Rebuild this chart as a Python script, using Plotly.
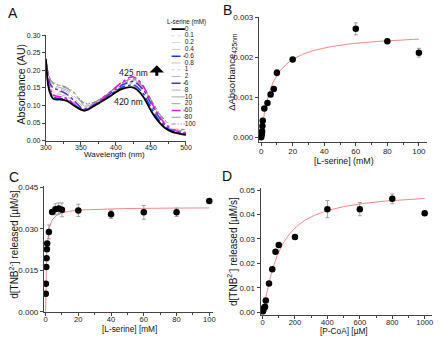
import numpy as np
import plotly.graph_objects as go

W, H = 442, 343


def fx(p):
    return p / W


def fy(p):
    return 1 - p / H


# ---------------- Panel A: absorbance spectra ----------------
wavelength = [300, 303, 306, 310, 315, 320, 330, 340, 350, 355, 360, 370, 380,
              390, 400, 410, 420, 425, 430, 440, 450, 460, 470, 480, 490, 500]

abs_0 = [0.232, 0.160, 0.135, 0.120, 0.117, 0.117, 0.113, 0.100, 0.088, 0.085, 0.088, 0.100, 0.112,
         0.124, 0.138, 0.148, 0.152, 0.151, 0.145, 0.122, 0.085, 0.056, 0.036, 0.025, 0.020, 0.016]
abs_0p1 = [0.230, 0.162, 0.137, 0.122, 0.118, 0.118, 0.114, 0.101, 0.089, 0.086, 0.089, 0.101, 0.113,
           0.125, 0.139, 0.149, 0.154, 0.153, 0.147, 0.124, 0.087, 0.058, 0.037, 0.026, 0.020, 0.017]
abs_0p2 = [0.228, 0.166, 0.141, 0.126, 0.122, 0.121, 0.117, 0.103, 0.090, 0.087, 0.090, 0.102, 0.114,
           0.127, 0.141, 0.151, 0.156, 0.156, 0.150, 0.127, 0.090, 0.060, 0.039, 0.027, 0.021, 0.018]
abs_0p4 = [0.226, 0.170, 0.146, 0.131, 0.127, 0.126, 0.121, 0.106, 0.092, 0.088, 0.091, 0.103, 0.116,
           0.129, 0.143, 0.154, 0.159, 0.159, 0.153, 0.130, 0.093, 0.062, 0.041, 0.029, 0.022, 0.019]
abs_0p6 = [0.220, 0.165, 0.140, 0.125, 0.121, 0.120, 0.116, 0.102, 0.089, 0.086, 0.089, 0.101, 0.114,
           0.127, 0.142, 0.153, 0.158, 0.158, 0.153, 0.131, 0.094, 0.062, 0.040, 0.028, 0.022, 0.019]
abs_0p8 = [0.224, 0.175, 0.151, 0.137, 0.133, 0.131, 0.125, 0.109, 0.093, 0.089, 0.092, 0.104, 0.117,
           0.131, 0.145, 0.156, 0.162, 0.162, 0.156, 0.134, 0.097, 0.065, 0.043, 0.030, 0.023, 0.020]
abs_1 = [0.225, 0.178, 0.155, 0.141, 0.137, 0.135, 0.128, 0.111, 0.094, 0.090, 0.093, 0.105, 0.118,
         0.132, 0.147, 0.158, 0.164, 0.164, 0.158, 0.137, 0.100, 0.067, 0.045, 0.031, 0.024, 0.021]
abs_2 = [0.227, 0.182, 0.159, 0.146, 0.142, 0.139, 0.131, 0.114, 0.096, 0.091, 0.094, 0.106, 0.119,
         0.133, 0.148, 0.160, 0.166, 0.167, 0.161, 0.140, 0.104, 0.070, 0.047, 0.033, 0.026, 0.022]
abs_6 = [0.225, 0.185, 0.162, 0.150, 0.146, 0.142, 0.132, 0.114, 0.094, 0.090, 0.092, 0.104, 0.117,
         0.131, 0.146, 0.159, 0.167, 0.168, 0.163, 0.142, 0.106, 0.071, 0.046, 0.032, 0.025, 0.021]
abs_8 = [0.228, 0.188, 0.166, 0.154, 0.150, 0.147, 0.139, 0.121, 0.101, 0.095, 0.096, 0.107, 0.120,
         0.134, 0.149, 0.162, 0.170, 0.171, 0.166, 0.145, 0.109, 0.074, 0.050, 0.036, 0.028, 0.024]
abs_10 = [0.229, 0.192, 0.170, 0.158, 0.154, 0.151, 0.144, 0.127, 0.106, 0.099, 0.099, 0.108, 0.121,
          0.135, 0.150, 0.164, 0.172, 0.173, 0.168, 0.147, 0.112, 0.077, 0.052, 0.038, 0.030, 0.026]
abs_20 = [0.231, 0.196, 0.174, 0.162, 0.157, 0.155, 0.148, 0.132, 0.110, 0.103, 0.102, 0.109, 0.121,
          0.136, 0.151, 0.165, 0.174, 0.175, 0.170, 0.150, 0.115, 0.080, 0.055, 0.040, 0.032, 0.028]
abs_60 = [0.230, 0.175, 0.150, 0.130, 0.126, 0.125, 0.120, 0.104, 0.090, 0.087, 0.090, 0.103, 0.118,
          0.134, 0.152, 0.168, 0.180, 0.181, 0.176, 0.152, 0.112, 0.075, 0.048, 0.033, 0.026, 0.022]
abs_80 = [0.233, 0.198, 0.176, 0.164, 0.159, 0.157, 0.150, 0.135, 0.113, 0.105, 0.104, 0.110, 0.122,
          0.137, 0.152, 0.166, 0.175, 0.176, 0.171, 0.151, 0.117, 0.082, 0.057, 0.042, 0.034, 0.030]
abs_100 = [0.235, 0.200, 0.178, 0.166, 0.160, 0.158, 0.152, 0.138, 0.115, 0.107, 0.105, 0.110, 0.122,
           0.137, 0.152, 0.166, 0.175, 0.176, 0.172, 0.152, 0.118, 0.084, 0.058, 0.043, 0.035, 0.031]

serine_labels = ["0", "0.1", "0.2", "0.4", "0.6", "0.8", "1", "2", "6", "8", "10", "20", "60", "80", "100"]
spectra = [abs_0, abs_0p1, abs_0p2, abs_0p4, abs_0p6, abs_0p8, abs_1, abs_2,
           abs_6, abs_8, abs_10, abs_20, abs_60, abs_80, abs_100]
line_styles = [
    ("#000000", "solid", 1.8),
    ("#d6d6d6", "dot", 1.0),
    ("#d0d0d0", "dash", 1.0),
    ("#c6c6c6", "dash", 1.0),
    ("#1f3be0", "dashdot", 1.4),
    ("#c0c0c0", "dashdot", 1.0),
    ("#cfcfcf", "dot", 1.0),
    ("#b8b8b8", "dash", 1.0),
    ("#4a2ed6", "dashdot", 1.4),
    ("#b0b0b0", "dashdot", 1.0),
    ("#a8a8a8", "longdashdot", 1.0),
    ("#a0a0a0", "dash", 1.0),
    ("#e01ee0", "dashdot", 1.6),
    ("#959595", "dashdot", 1.0),
    ("#8a8a8a", "4px,2px,1px,2px,1px,2px", 1.0),
]

# ---------------- Panel B: delta absorbance vs L-serine ----------------
serine_B = [0, 0.2, 0.4, 0.6, 0.8, 1, 2, 4, 6, 8, 10, 20, 60, 80, 100]
dabs_B = [0.00000, 0.00005, 0.00009, 0.00015, 0.00028, 0.00041, 0.00072, 0.00086,
          0.00107, 0.00121, 0.00162, 0.00195, 0.00272, 0.00241, 0.00212]
err_B = [0.00001, 0.00001, 0.00001, 0.00001, 0.00002, 0.00002, 0.00004, 0.00004,
         0.00004, 0.00004, 0.00008, 0.00003, 0.00015, 0.00004, 0.00011]
vmax_B, km_B = 0.00263, 6.95

# ---------------- Panel C: TNB release rate vs L-serine ----------------
serine_C = [0.1, 0.2, 0.4, 0.6, 0.8, 1, 2, 4, 6, 8, 10, 20, 40, 60, 80, 100]
rate_C = [0.0065, 0.0101, 0.0162, 0.0194, 0.0226, 0.0247, 0.0289, 0.0361,
          0.0371, 0.0374, 0.0369, 0.0367, 0.0353, 0.0360, 0.0360, 0.0401]
err_C = [0.0002, 0.0002, 0.0003, 0.0003, 0.0003, 0.0004, 0.0025, 0.0006,
         0.0020, 0.0020, 0.0025, 0.0022, 0.0015, 0.0025, 0.0015, 0.0003]
vmax_C, km_C = 0.0378, 0.56

# ---------------- Panel D: TNB release rate vs P-CoA ----------------
pcoa_D = [2.5, 5, 10, 15, 20, 40, 60, 80, 100, 200, 400, 600, 800, 1000]
rate_D = [0.0005, 0.0012, 0.0019, 0.0023, 0.0049, 0.0118, 0.0176, 0.0248,
          0.0275, 0.0308, 0.0422, 0.0422, 0.0464, 0.0405]
err_D = [0.0001, 0.0001, 0.0002, 0.0002, 0.0003, 0.0004, 0.0005, 0.0005,
         0.0006, 0.0004, 0.0035, 0.0027, 0.0020, 0.0003]
vmax_D, k_D, hill_D = 0.0495, 100.0, 1.2

FONT = "Liberation Sans, Arial, sans-serif"
fig = go.Figure()

# spectra: grey curves first, coloured and black ones on top
draw_order = [1, 2, 3, 5, 6, 7, 9, 10, 11, 13, 14, 4, 8, 12, 0]
for i in draw_order:
    c, d, w = line_styles[i]
    fig.add_trace(go.Scatter(x=wavelength, y=spectra[i], mode="lines",
                             line=dict(color=c, dash=d, width=w, shape="spline", smoothing=0.6),
                             xaxis="x", yaxis="y", showlegend=False, hoverinfo="skip"))

# hand-built legend in its own hidden axes
for i, lab in enumerate(serine_labels):
    c, d, w = line_styles[i]
    fig.add_trace(go.Scatter(x=[0.05, 0.36], y=[i, i], mode="lines",
                             line=dict(color=c, dash=d, width=w),
                             xaxis="x5", yaxis="y5", showlegend=False, hoverinfo="skip"))
fig.add_trace(go.Scatter(x=[0.36] * len(serine_labels), y=list(range(len(serine_labels))),
                         mode="text", text=serine_labels, textposition="middle right",
                         textfont=dict(size=6.5, family=FONT, color="#222"),
                         xaxis="x5", yaxis="y5", showlegend=False, hoverinfo="skip"))

marker = dict(color="black", size=6.5)
ebar = dict(color="#8c8c8c", thickness=0.8, width=2)
fit_line = dict(color="#f08a8a", width=1)

# Panel B
xb = np.linspace(0, 100, 300)
fig.add_trace(go.Scatter(x=xb, y=vmax_B * xb / (km_B + xb), mode="lines", line=fit_line,
                         xaxis="x2", yaxis="y2", showlegend=False))
fig.add_trace(go.Scatter(x=serine_B, y=dabs_B, mode="markers", marker=marker,
                         error_y=dict(type="data", array=err_B, **ebar),
                         xaxis="x2", yaxis="y2", showlegend=False))

# Panel C
xc = np.linspace(0, 100, 400)
fig.add_trace(go.Scatter(x=xc, y=vmax_C * xc / (km_C + xc), mode="lines", line=fit_line,
                         xaxis="x3", yaxis="y3", showlegend=False))
fig.add_trace(go.Scatter(x=serine_C, y=rate_C, mode="markers", marker=marker,
                         error_y=dict(type="data", array=err_C, **ebar),
                         xaxis="x3", yaxis="y3", showlegend=False))

# Panel D
xd = np.linspace(0, 1000, 400)
fig.add_trace(go.Scatter(x=xd, y=vmax_D * xd ** hill_D / (k_D ** hill_D + xd ** hill_D),
                         mode="lines", line=fit_line,
                         xaxis="x4", yaxis="y4", showlegend=False))
fig.add_trace(go.Scatter(x=pcoa_D, y=rate_D, mode="markers", marker=marker,
                         error_y=dict(type="data", array=err_D, **ebar),
                         xaxis="x4", yaxis="y4", showlegend=False))


def axis(domain, rng, dtick, fmt, size, minor_dtick=None, anchor=None, standoff=0):
    a = dict(domain=domain, range=rng, dtick=dtick, tick0=0, tickformat=fmt,
             showgrid=False, zeroline=False, showline=True, linecolor="#444", linewidth=1,
             ticks="outside", ticklen=3, tickwidth=1, tickcolor="#444",
             ticklabelstandoff=standoff,
             tickfont=dict(size=size, family=FONT, color="#222"), anchor=anchor)
    if minor_dtick:
        a["minor"] = dict(dtick=minor_dtick, ticks="outside", ticklen=2, tickcolor="#444", showgrid=False)
    return a


fig.update_layout(
    width=W, height=H, margin=dict(l=0, r=0, t=0, b=0),
    paper_bgcolor="white", plot_bgcolor="white", showlegend=False,
    font=dict(family=FONT, color="#222"),
    xaxis=axis([fx(41), fx(185)], [300, 500], 50, "d", 7, 25, "y", -3),
    yaxis=axis([fy(140.3), fy(32)], [0, 0.30], 0.05, ".2f", 7, None, "x"),
    xaxis2=axis([fx(260), fx(433)], [-1.4, 105.3], 20, "d", 8, 10, "y2", -1),
    yaxis2=axis([fy(141.5), fy(13.5)], [-0.000115, 0.003012], 0.001, ".3f", 8, None, "x2"),
    xaxis3=axis([fx(39), fx(213)], [-1.0, 102.4], 20, "d", 7.6, 10, "y3", -3),
    yaxis3=axis([fy(316.3), fy(187)], [-0.0001, 0.0455], 0.015, ".3f", 8, None, "x3"),
    xaxis4=axis([fx(261.7), fx(437.7)], [-12, 1044], 200, "d", 7.6, 100, "y4", -3),
    yaxis4=axis([fy(319.5), fy(189.3)], [-0.0011, 0.0507], 0.01, ".2f", 8, None, "x4"),
    xaxis5=dict(domain=[fx(168), fx(212)], range=[0, 1], visible=False, anchor="y5"),
    yaxis5=dict(domain=[fy(128), fy(20)], range=[14.68, -0.82], visible=False, anchor="x5"),
)


def label(text, x, y, size, angle=0, family=FONT, **kw):
    fig.add_annotation(text=text, x=fx(x), y=fy(y), xref="paper", yref="paper",
                       showarrow=False, textangle=angle, xanchor="center", yanchor="middle",
                       font=dict(size=size, family=family, color="#111"), **kw)


# panel letters
label("A", 7.5, 9, 14)
label("B", 227.5, 6, 14)
label("C", 8, 178, 14)
label("D", 227, 177, 14)

# axis titles
label("Wavelength (nm)", 112, 155, 8)
label("Absorbance (AU)", 15, 82, 10.5, -90)
label("[L-serine] (mM)", 347, 161, 8.8)
label("ΔAbsorbance<sub>425nm</sub>", 232, 70, 9.5, -90)
label("[L-serine] [mM]", 127, 334, 8.3)
label("d[TNB<sup>2-</sup>] released [µM/s]", 7.5, 247, 10, -90)
label("[P-CoA] [µM]", 347, 335.5, 8.3)
label("d[TNB<sup>2-</sup>] released [µM/s]", 233, 254, 10, -90)

# spectrum annotations
label("425 nm", 131.5, 70.5, 8.5, family="Lato, Open Sans, sans-serif")
label("420 nm", 126, 100.5, 8.5, family="Lato, Open Sans, sans-serif")
label("L-serine (mM)", 186, 18.5, 6.3)
fig.add_annotation(x=fx(155), y=fy(63), xref="paper", yref="paper", ax=0, ay=12,
                   text="", showarrow=True, arrowhead=1, arrowsize=0.8, arrowwidth=3,
                   arrowcolor="black")

fig.write_html("out.html")
